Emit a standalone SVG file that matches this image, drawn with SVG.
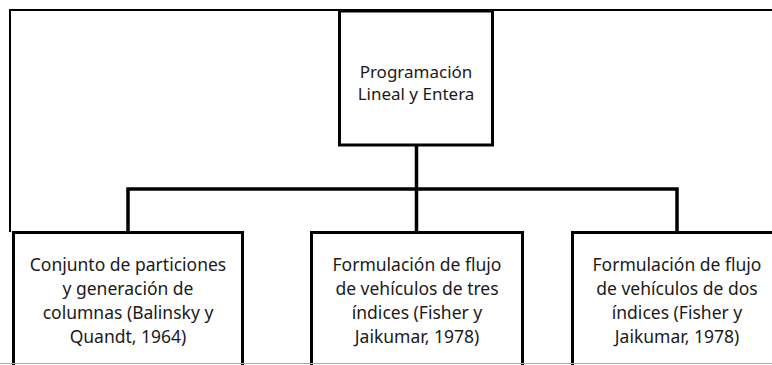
<svg xmlns="http://www.w3.org/2000/svg" width="772" height="365" viewBox="0 0 772 365">
<style>
.box{fill:#fff;stroke:#000;stroke-width:3}
.frame{fill:none;stroke:#000;stroke-width:2}
.conn{fill:none;stroke:#000;stroke-width:3.5}
text{font-family:"Noto Sans","Open Sans",sans-serif;font-size:17.5px;fill:#1a1a1a;text-anchor:middle}
</style>
<rect width="772" height="365" fill="#fff"/>
<g id="frame">
<path class="frame" d="M10,232 V10 H772"/>
</g>
<g id="connectors">
<path class="conn" d="M416.5,145 V232"/>
<path class="conn" d="M128,232 V189 H677 V232"/>
</g>
<g id="root">
<rect class="box" x="339.5" y="11" width="153" height="134"/>
<text x="416" y="78" style="font-size:17px">Programación</text>
<text x="416" y="100" style="font-size:17px">Lineal y Entera</text>
</g>
<g id="n1">
<rect class="box" x="13.5" y="232.5" width="229" height="140"/>
<text x="128" y="271">Conjunto de particiones</text>
<text x="128" y="295">y generación de</text>
<text x="128" y="319">columnas (Balinsky y</text>
<text x="128" y="343">Quandt, 1964)</text>
</g>
<g id="n2">
<rect class="box" x="311.5" y="232.5" width="211" height="140"/>
<text x="417" y="271">Formulación de flujo</text>
<text x="417" y="295">de vehículos de tres</text>
<text x="417" y="319">índices (Fisher y</text>
<text x="417" y="343">Jaikumar, 1978)</text>
</g>
<g id="n3">
<rect class="box" x="572.5" y="232.5" width="220" height="140"/>
<text x="677" y="271">Formulación de flujo</text>
<text x="677" y="295">de vehículos de dos</text>
<text x="677" y="319">índices (Fisher y</text>
<text x="677" y="343">Jaikumar, 1978)</text>
</g>
<line x1="0" y1="363.5" x2="772" y2="363.5" stroke="#aaa" stroke-width="1"/>
</svg>
